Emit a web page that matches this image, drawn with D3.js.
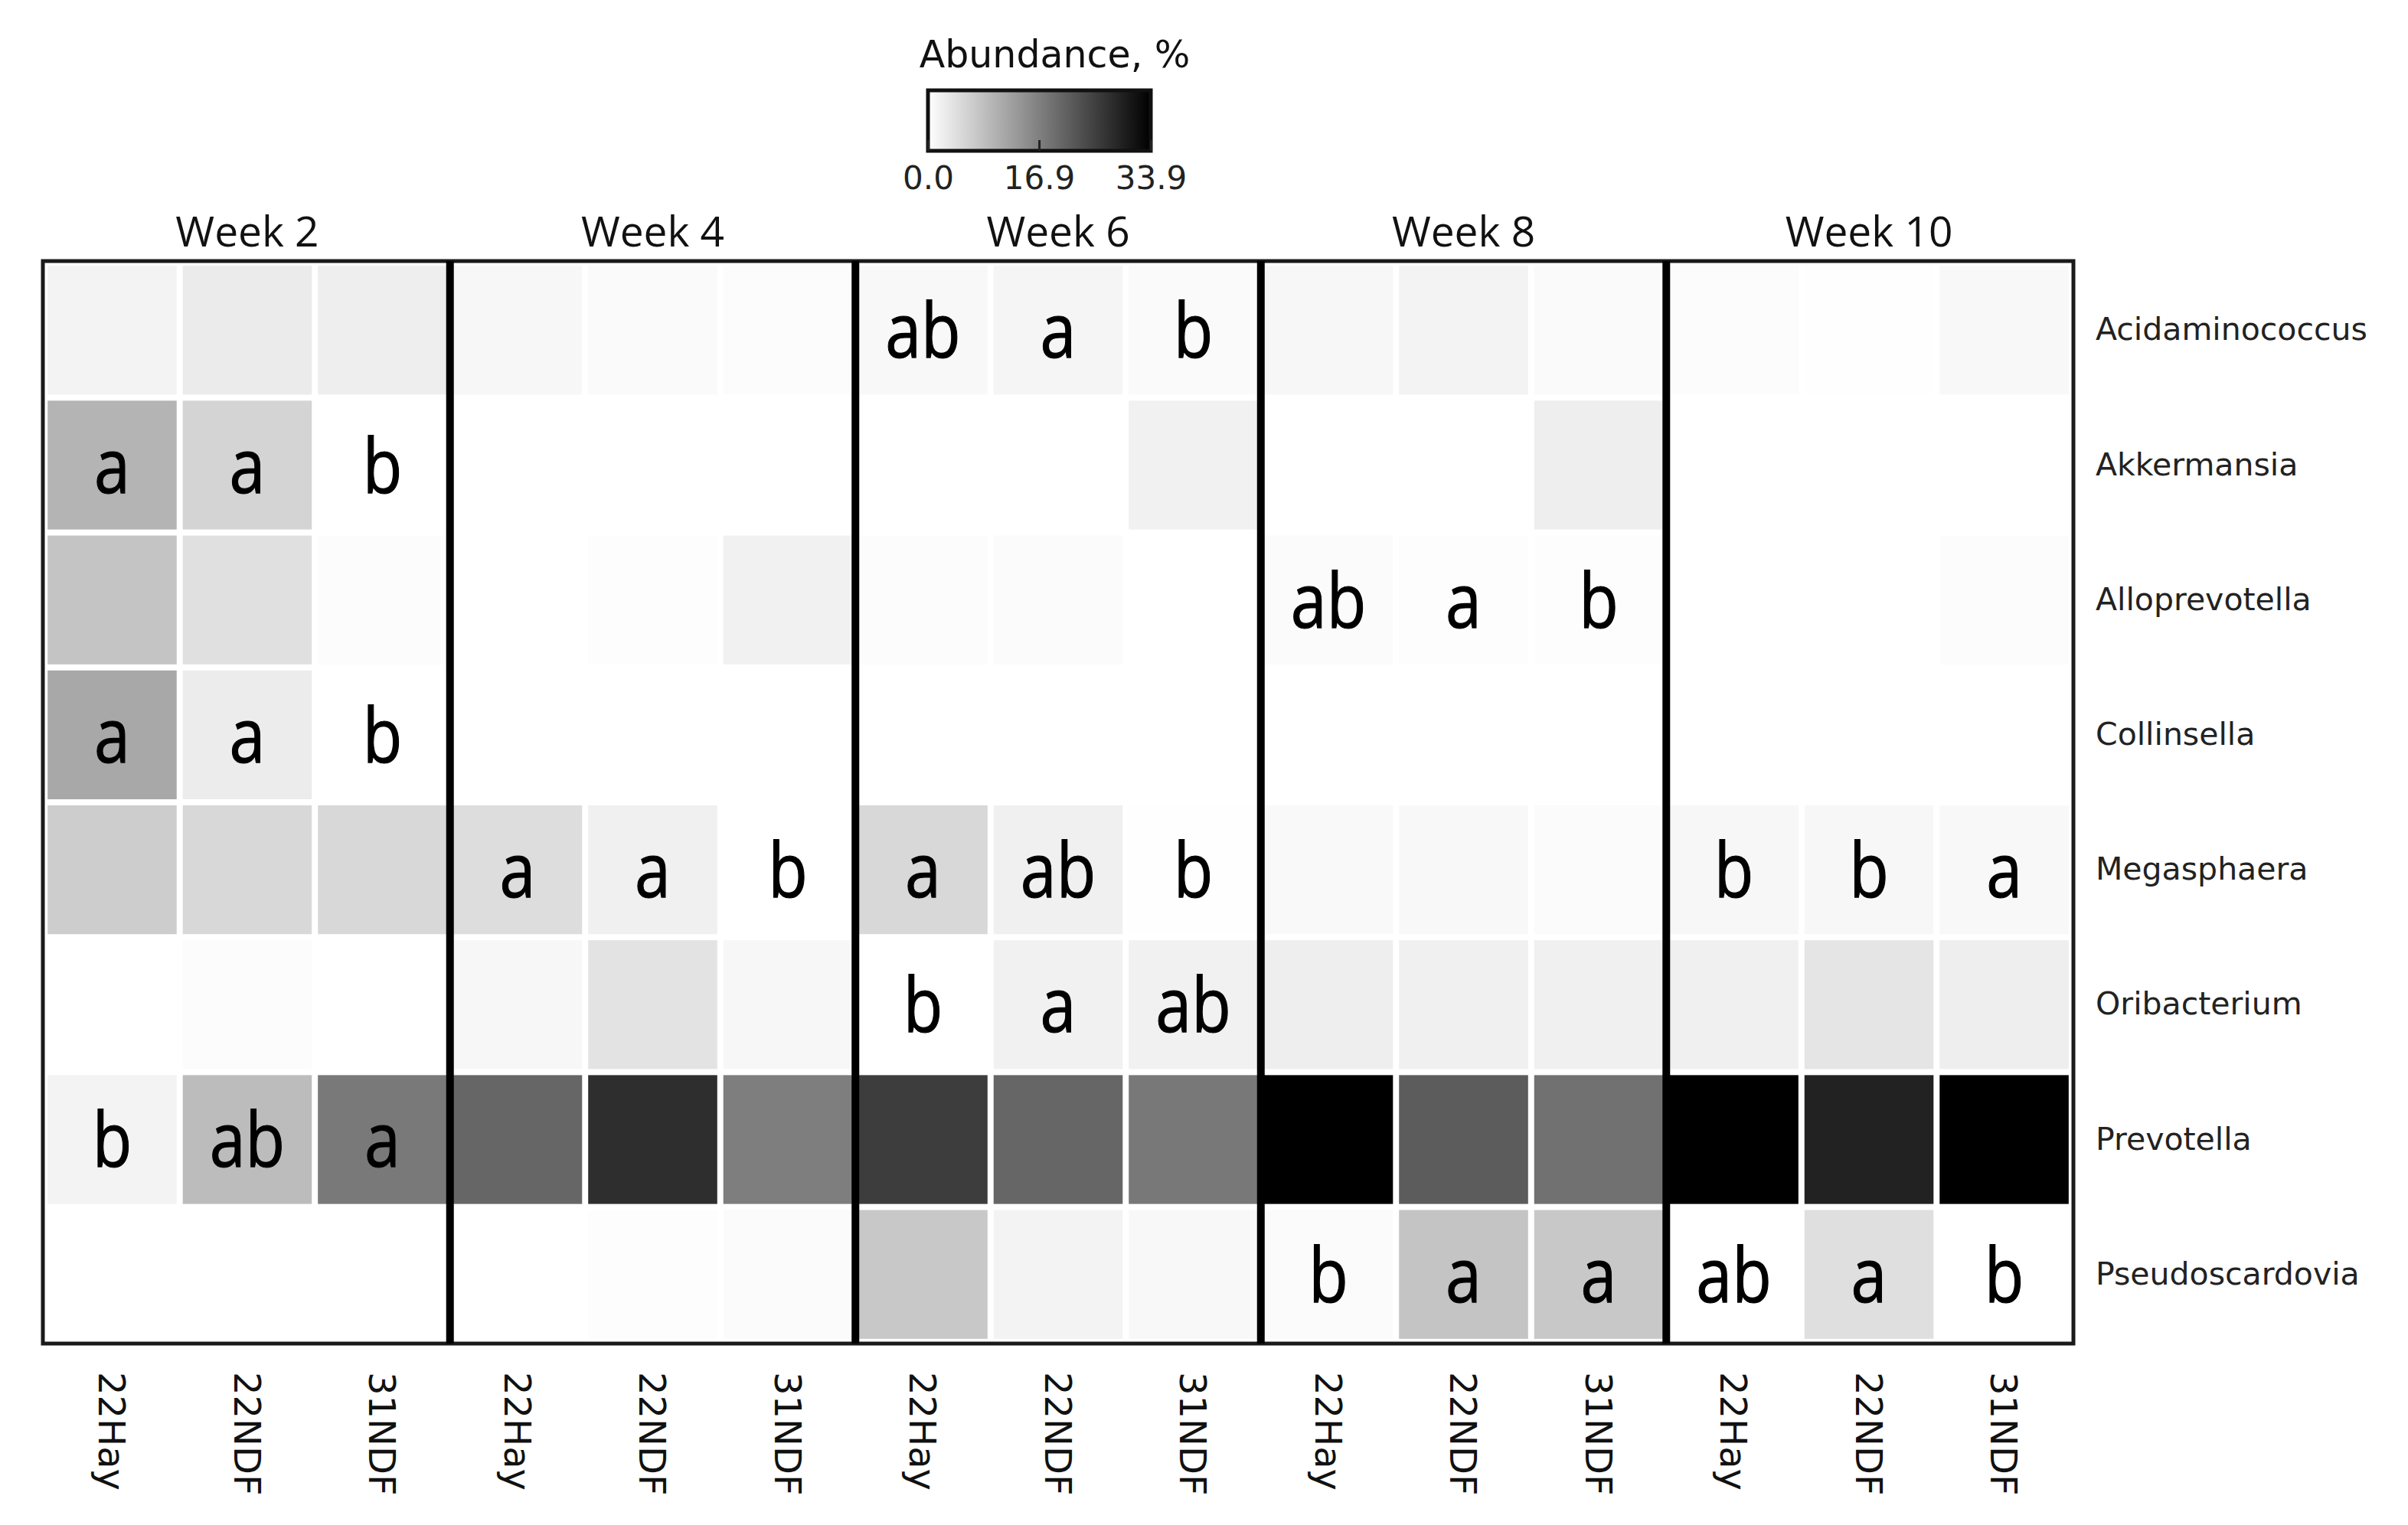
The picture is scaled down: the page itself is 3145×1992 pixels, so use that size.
<!DOCTYPE html>
<html>
<head>
<meta charset="utf-8">
<script src="https://cdn.jsdelivr.net/npm/d3@7"></script>
<style>
  html, body { margin: 0; padding: 0; background: #fff; }
</style>
</head>
<body>
<div id="vis"></div>
<script>
// categories
const weeks = ["Week 2", "Week 4", "Week 6", "Week 8", "Week 10"];
const diets = ["22Hay", "22NDF", "31NDF"];
const genera = ["Acidaminococcus", "Akkermansia", "Alloprevotella", "Collinsella",
	"Megasphaera", "Oribacterium", "Prevotella", "Pseudoscardovia"];

// abundance, % (15 values per genus: week x diet)
const acidaminococcus = [1.6, 2.7, 2.3, 1.1, 0.7, 0.4, 0.9, 1.3, 0.7, 1.1, 1.6, 0.7, 0.4, 0.1, 0.9];
const akkermansia = [10.0, 5.7, 0, 0, 0, 0, 0, 0, 1.9, 0, 0, 2.3, 0, 0, 0];
const alloprevotella = [7.8, 4.1, 0.4, 0, 0.3, 1.9, 0.4, 0.5, 0, 0.5, 0.3, 0.3, 0, 0, 0.4];
const collinsella = [11.6, 2.5, 0, 0, 0, 0, 0, 0, 0, 0, 0, 0, 0, 0, 0];
const megasphaera = [6.6, 5.2, 5.2, 4.5, 2.0, 0, 5.2, 2.0, 0.1, 0.8, 0.9, 0.5, 1.1, 1.1, 0.9];
const oribacterium = [0, 0.4, 0, 1.1, 3.7, 1.1, 0, 1.9, 1.9, 2.3, 2.0, 2.0, 2.0, 3.5, 2.3];
const prevotella = [1.6, 8.9, 17.8, 20.3, 27.8, 17.1, 25.8, 20.3, 17.9, 33.9, 21.7, 18.9, 33.9, 29.4, 33.9];
const pseudoscardovia = [0, 0, 0, 0, 0.3, 0.5, 7.3, 1.6, 0.9, 0.5, 7.8, 7.3, 0, 4.3, 0];

// significance letters
const acidaminococcusSig = ["", "", "", "", "", "", "ab", "a", "b", "", "", "", "", "", ""];
const akkermansiaSig = ["a", "a", "b", "", "", "", "", "", "", "", "", "", "", "", ""];
const alloprevotellaSig = ["", "", "", "", "", "", "", "", "", "ab", "a", "b", "", "", ""];
const collinsellaSig = ["a", "a", "b", "", "", "", "", "", "", "", "", "", "", "", ""];
const megasphaeraSig = ["", "", "", "a", "a", "b", "a", "ab", "b", "", "", "", "b", "b", "a"];
const oribacteriumSig = ["", "", "", "", "", "", "b", "a", "ab", "", "", "", "", "", ""];
const prevotellaSig = ["b", "ab", "a", "", "", "", "", "", "", "", "", "", "", "", ""];
const pseudoscardoviaSig = ["", "", "", "", "", "", "", "", "", "b", "a", "a", "ab", "a", "b"];

const legendTicks = [0, 16.9, 33.9];
const legendMax = 33.9;

const values = [acidaminococcus, akkermansia, alloprevotella, collinsella,
	megasphaera, oribacterium, prevotella, pseudoscardovia];
const letters = [acidaminococcusSig, akkermansiaSig, alloprevotellaSig, collinsellaSig,
	megasphaeraSig, oribacteriumSig, prevotellaSig, pseudoscardoviaSig];

const W = 3145, H = 1992;
const plotL = 56, plotR = 2708, plotT = 341, plotB = 1755;

const columns = weeks.flatMap(w => diets.map(d => w + "|" + d));
const cells = genera.flatMap((g, gi) => columns.map((c, ci) => ({
	genus: g, col: c, value: values[gi][ci], sig: letters[gi][ci]
})));

const svg = d3.select("#vis").append("svg")
	.attr("width", W)
	.attr("height", H);
svg.append("rect").attr("width", W).attr("height", H).attr("fill", "#fff");

const x = d3.scaleBand().domain(columns).range([plotL, plotR])
	.paddingInner(0.045).paddingOuter(0.035);
const y = d3.scaleBand().domain(genera).range([plotT, plotB])
	.paddingInner(0.045).paddingOuter(0.035);
const color = d3.scaleLinear().domain([0, legendMax]).range(["#ffffff", "#000000"]);

// cells
svg.append("g")
	.selectAll("rect")
	.data(cells)
	.enter()
	.append("rect")
	.attr("x", d => x(d.col))
	.attr("y", d => y(d.genus))
	.attr("width", x.bandwidth())
	.attr("height", y.bandwidth())
	.attr("fill", d => color(d.value));

// frame + week dividers
svg.append("rect")
	.attr("x", plotL).attr("y", plotT)
	.attr("width", plotR - plotL).attr("height", plotB - plotT)
	.attr("fill", "none").attr("stroke", "#1a1a1a").attr("stroke-width", 5);

const step = x.step();
const bounds = weeks.slice(1).map(w => x(w + "|" + diets[0]) - (step - x.bandwidth()) / 2);
svg.append("g")
	.selectAll("line")
	.data(bounds)
	.enter()
	.append("line")
	.attr("x1", d => d).attr("x2", d => d)
	.attr("y1", plotT).attr("y2", plotB)
	.attr("stroke", "#000").attr("stroke-width", 10);

// week headers
svg.append("g")
	.selectAll("text")
	.data(weeks)
	.enter()
	.append("text")
	.attr("x", w => (x(w + "|" + diets[0]) + x(w + "|" + diets[2]) + x.bandwidth()) / 2)
	.attr("y", 322)
	.attr("text-anchor", "middle")
	.style("font-family", "'Open Sans'")
	.style("font-size", "55px")
	.attr("fill", "#111")
	.text(w => w);

// significance letters
svg.append("g")
	.selectAll("text")
	.data(cells.filter(d => d.sig))
	.enter()
	.append("text")
	.attr("transform", d => `translate(${x(d.col) + x.bandwidth() / 2},${y(d.genus) + y.bandwidth() / 2 + 36}) scale(0.86,1)`)
	.attr("text-anchor", "middle")
	.style("font-family", "'Open Sans'")
	.style("font-size", "98px")
	.attr("fill", "#000")
	.attr("stroke", "#000")
	.attr("stroke-width", 1.2)
	.text(d => d.sig);

// genus labels
const yAxis = svg.append("g")
	.attr("transform", `translate(${plotR},0)`)
	.call(d3.axisRight(y).tickSize(0).tickPadding(29));
yAxis.select(".domain").remove();
yAxis.selectAll("text")
	.style("font-family", "'DejaVu Sans'")
	.style("font-size", "41px")
	.attr("fill", "#222");

// diet labels (rotated)
const xAxis = svg.append("g")
	.attr("transform", `translate(0,${plotB})`)
	.call(d3.axisBottom(x).tickSize(0).tickFormat(d => d.split("|")[1]));
xAxis.select(".domain").remove();
xAxis.selectAll("text")
	.attr("transform", "rotate(90)")
	.attr("x", 37)
	.attr("y", 0)
	.attr("dy", "0.36em")
	.attr("text-anchor", "start")
	.style("font-family", "'DejaVu Sans'")
	.style("font-size", "48px")
	.attr("fill", "#111");

// legend
const lg = { x: 1212, y: 118, w: 291, h: 79 };
const defs = svg.append("defs");
const grad = defs.append("linearGradient").attr("id", "abund-grad");
grad.append("stop").attr("offset", "0%").attr("stop-color", color(0));
grad.append("stop").attr("offset", "100%").attr("stop-color", color(legendMax));

svg.append("text")
	.attr("x", lg.x + lg.w / 2 + 20)
	.attr("y", 88)
	.attr("text-anchor", "middle")
	.style("font-family", "'DejaVu Sans'")
	.style("font-size", "49px")
	.attr("fill", "#111")
	.text("Abundance, %");

svg.append("rect")
	.attr("x", lg.x).attr("y", lg.y)
	.attr("width", lg.w).attr("height", lg.h)
	.attr("fill", "url(#abund-grad)")
	.attr("stroke", "#111").attr("stroke-width", 5);

const lx = d3.scaleLinear().domain([0, legendMax]).range([lg.x, lg.x + lg.w]);
const lAxis = svg.append("g")
	.attr("transform", `translate(0,${lg.y + lg.h})`)
	.call(d3.axisBottom(lx).tickValues(legendTicks).tickFormat(d3.format(".1f"))
		.tickSize(-14).tickPadding(20));
lAxis.select(".domain").remove();
lAxis.selectAll("line").attr("stroke", "#222").attr("stroke-width", 3);
lAxis.selectAll("text")
	.style("font-family", "'DejaVu Sans'")
	.style("font-size", "42px")
	.attr("fill", "#222");
</script>
</body>
</html>
